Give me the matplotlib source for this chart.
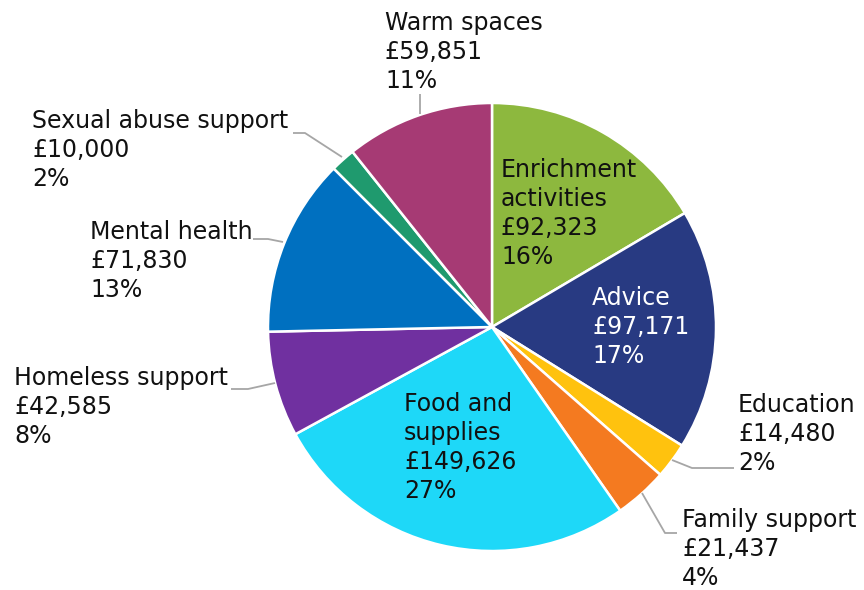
import matplotlib
matplotlib.use("Agg")
import matplotlib.pyplot as plt

categories = ["Enrichment activities", "Advice", "Education", "Family support",
              "Food and supplies", "Homeless support", "Mental health",
              "Sexual abuse support", "Warm spaces"]
values = [92323, 97171, 14480, 21437, 149626, 42585, 71830, 10000, 59851]
percents = [16, 17, 2, 4, 27, 8, 13, 2, 11]
label_text = ["Enrichment\nactivities", "Advice", "Education", "Family support",
              "Food and\nsupplies", "Homeless support", "Mental health",
              "Sexual abuse support", "Warm spaces"]
colors = ["#8DB83E", "#283A82", "#FFC20E", "#F47A20", "#1ED8F8",
          "#7030A0", "#0070C0", "#1F9A6E", "#A63A74"]

W, H = 864, 590
fig = plt.figure(figsize=(W / 100, H / 100), dpi=100)
ax = fig.add_axes([0, 0, 1, 1])

cx, cy, R = 492, H - 327, 224
ax.pie(values, colors=colors, startangle=90, counterclock=False,
       center=(cx, cy), radius=R, frame=True,
       wedgeprops=dict(edgecolor="white", linewidth=1.8))
ax.set_xlim(0, W)
ax.set_ylim(0, H)
ax.axis("off")

fs = 17
txtcol = "#111111"

# label anchor (left x, first-line centre y in pixel coords from top), text colour
placements = {
    "Enrichment activities": (501, 169, txtcol),
    "Advice": (592, 297, "white"),
    "Education": (738, 404, txtcol),
    "Family support": (682, 519, txtcol),
    "Food and supplies": (404, 403, txtcol),
    "Homeless support": (14, 377, txtcol),
    "Mental health": (90, 231, txtcol),
    "Sexual abuse support": (32, 120, txtcol),
    "Warm spaces": (385, 22, txtcol),
}

for cat, lab, v, p in zip(categories, label_text, values, percents):
    x, yc, col = placements[cat]
    s = f"{lab}\n£{v:,}\n{p}%"
    ax.text(x, H - (yc - 11), s, ha="left", va="top", fontsize=fs, color=col,
            linespacing=1.27, family="DejaVu Sans")

# leader lines (pixel coords from top)
leaders = [
    [(420, 94), (420, 114)],
    [(293, 133), (305, 133), (342, 157)],
    [(253, 239), (268, 239), (283, 242)],
    [(231, 389), (248, 389), (275, 383)],
    [(672, 460), (692, 468), (734, 468)],
    [(642, 493), (665, 533), (677, 533)],
]
for pts in leaders:
    xs = [q[0] for q in pts]
    ys = [H - q[1] for q in pts]
    ax.plot(xs, ys, color="#A6A6A6", lw=1.3, solid_capstyle="butt")

fig.savefig("out.png", dpi=100)
